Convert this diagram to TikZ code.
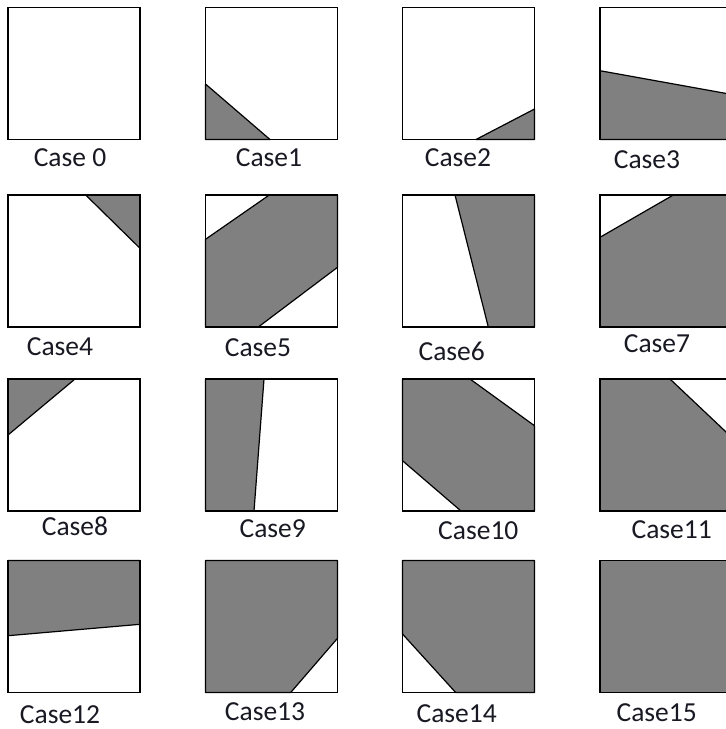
\documentclass[tikz,border=0pt]{standalone}
\usepackage{fontspec}
\setmainfont{Carlito}
\definecolor{cellgray}{RGB}{128,128,128}
\definecolor{labelink}{RGB}{25,25,35}
\begin{document}
\begin{tikzpicture}[x=1pt,y=-1pt,
  cellfill/.style={fill=cellgray,draw=black,line width=1.2pt,line join=round},
  cellbox/.style={draw=black,line width=1.6pt},
  lbl/.style={inner sep=0pt,text=labelink,font=\fontsize{27.5}{33}\selectfont}]
\useasboundingbox (0,0) rectangle (726,729);
\clip (0,0) rectangle (726,729);
\fill[white] (0,0) rectangle (726,729);
% Row 1
\begin{scope}[shift={(8,7.5)}]
  \draw[cellbox] (0,0) rectangle (132,132);
\end{scope}
\begin{scope}[shift={(205.5,7.5)}]
  \draw[cellfill] (0,76.5) -- (64.5,132) -- (0,132) -- cycle;
  \draw[cellbox] (0,0) rectangle (132,132);
\end{scope}
\begin{scope}[shift={(402.5,7.5)}]
  \draw[cellfill] (73.5,132) -- (132,101.5) -- (132,132) -- cycle;
  \draw[cellbox] (0,0) rectangle (132,132);
\end{scope}
\begin{scope}[shift={(600,7.5)}]
  \draw[cellfill] (0,63.2) -- (132,87) -- (132,132) -- (0,132) -- cycle;
  \draw[cellbox] (0,0) rectangle (132,132);
\end{scope}
% Row 2
\begin{scope}[shift={(8,195)}]
  \draw[cellfill] (77.7,0) -- (132,0) -- (132,53.3) -- cycle;
  \draw[cellbox] (0,0) rectangle (132,132);
\end{scope}
\begin{scope}[shift={(205.5,195)}]
  \draw[cellfill] (0,44.3) -- (63.8,0) -- (132,0) -- (132,72.3) -- (52.8,132) -- (0,132) -- cycle;
  \draw[cellbox] (0,0) rectangle (132,132);
\end{scope}
\begin{scope}[shift={(402.5,195)}]
  \draw[cellfill] (52.5,0) -- (132,0) -- (132,132) -- (85.8,132) -- cycle;
  \draw[cellbox] (0,0) rectangle (132,132);
\end{scope}
\begin{scope}[shift={(600,195)}]
  \draw[cellfill] (0,42.3) -- (73.3,0) -- (132,0) -- (132,132) -- (0,132) -- cycle;
  \draw[cellbox] (0,0) rectangle (132,132);
\end{scope}
% Row 3
\begin{scope}[shift={(8,379)}]
  \draw[cellfill] (0,0) -- (67,0) -- (0,56) -- cycle;
  \draw[cellbox] (0,0) rectangle (132,132);
\end{scope}
\begin{scope}[shift={(205.5,379)}]
  \draw[cellfill] (0,0) -- (58.5,0) -- (48.5,132) -- (0,132) -- cycle;
  \draw[cellbox] (0,0) rectangle (132,132);
\end{scope}
\begin{scope}[shift={(402.5,379)}]
  \draw[cellfill] (0,0) -- (67.5,0) -- (132,46.7) -- (132,132) -- (58.5,132) -- (0,81.7) -- cycle;
  \draw[cellbox] (0,0) rectangle (132,132);
\end{scope}
\begin{scope}[shift={(600,379)}]
  \draw[cellfill] (0,0) -- (70,0) -- (132,58.6) -- (132,132) -- (0,132) -- cycle;
  \draw[cellbox] (0,0) rectangle (132,132);
\end{scope}
% Row 4
\begin{scope}[shift={(8,560.5)}]
  \draw[cellfill] (0,0) -- (132,0) -- (132,63.8) -- (0,75.2) -- cycle;
  \draw[cellbox] (0,0) rectangle (132,132);
\end{scope}
\begin{scope}[shift={(205.5,560.5)}]
  \draw[cellfill] (0,0) -- (132,0) -- (132,77.8) -- (85.2,132) -- (0,132) -- cycle;
  \draw[cellbox] (0,0) rectangle (132,132);
\end{scope}
\begin{scope}[shift={(402.5,560.5)}]
  \draw[cellfill] (0,0) -- (132,0) -- (132,132) -- (53.2,132) -- (0,73.5) -- cycle;
  \draw[cellbox] (0,0) rectangle (132,132);
\end{scope}
\begin{scope}[shift={(600,560.5)}]
  \draw[cellfill] (0,0) rectangle (132,132);
  \draw[cellbox] (0,0) rectangle (132,132);
\end{scope}
% Labels
\node[lbl] (c0) at (70,158) {Case 0};
\node[lbl] (c1) at (269,158) {Case1};
\node[lbl] (c2) at (458,158) {Case2};
\node[lbl] (c3) at (647,160) {Case3};
\node[lbl] (c4) at (60,346.7) {Case4};
\node[lbl] (c5) at (258,348) {Case5};
\node[lbl] (c6) at (451.7,351.7) {Case6};
\node[lbl] (c7) at (657,344) {Case7};
\node[lbl] (c8) at (75,526.7) {Case8};
\node[lbl] (c9) at (272.7,528.3) {Case9};
\node[lbl] (c10) at (478.3,531) {Case10};
\node[lbl] (c11) at (671.7,530) {Case11};
\node[lbl] (c12) at (60,715) {Case12};
\node[lbl] (c13) at (265,711.7) {Case13};
\node[lbl] (c14) at (456.7,713.3) {Case14};
\node[lbl] (c15) at (656.7,713) {Case15};
\end{tikzpicture}
\end{document}
